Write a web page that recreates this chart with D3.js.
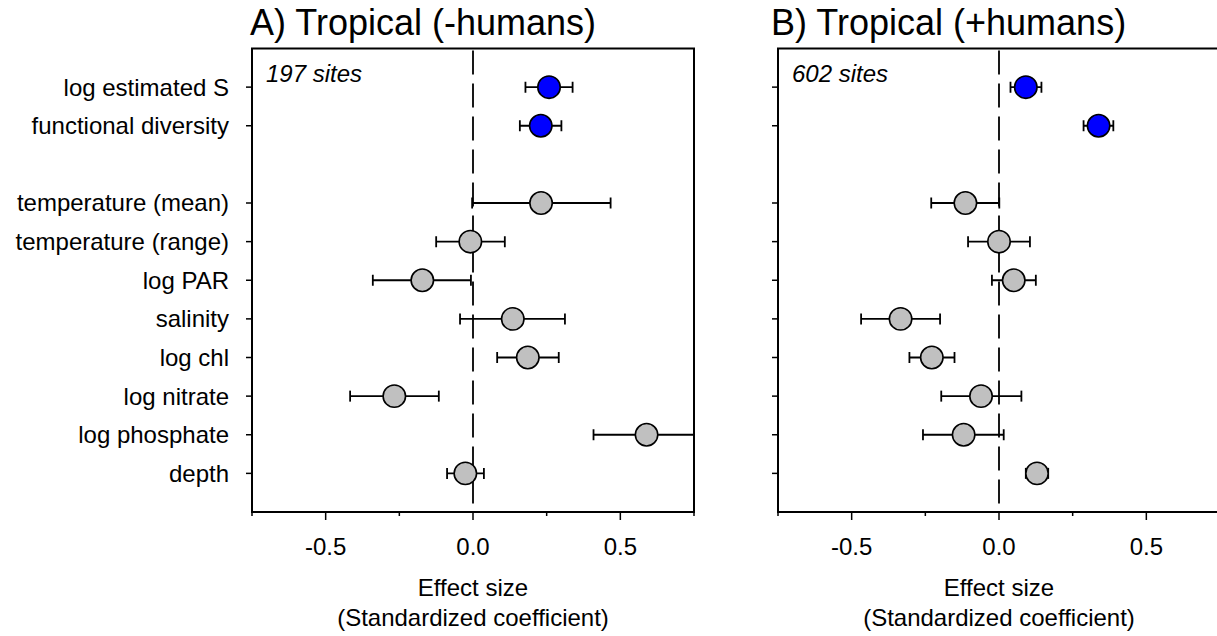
<!DOCTYPE html>
<meta charset="utf-8">
<head>
<script type="text/javascript" src="https://cdn.jsdelivr.net/npm/d3@7/dist/d3.min.js"></script>
<style>
  body { margin: 0; background: #fff; }
  text { font-family: "Liberation Sans", Arial, sans-serif; fill: #000; }
</style>
</head>
<body>
<div id="chart"></div>
<script>
// predictors, top to bottom (a blank row sits after the first two)
var variables = ["log estimated S", "functional diversity",
  "temperature (mean)", "temperature (range)", "log PAR", "salinity",
  "log chl", "log nitrate", "log phosphate", "depth"];
var isDiversity = [true, true, false, false, false, false, false, false, false, false];

// A) Tropical (-humans), 197 sites
var estA  = [0.258, 0.230, 0.231, -0.009, -0.172, 0.135, 0.186, -0.267, 0.589, -0.026];
var lowA  = [0.178, 0.159, -0.003, -0.125, -0.340, -0.044, 0.082, -0.417, 0.409, -0.088];
var highA = [0.338, 0.300, 0.467, 0.108, -0.007, 0.312, 0.291, -0.116, 0.770, 0.037];

// B) Tropical (+humans), 602 sites
var estB  = [0.091, 0.338, -0.114, 0.000, 0.050, -0.334, -0.228, -0.061, -0.120, 0.129];
var lowB  = [0.039, 0.287, -0.230, -0.105, -0.024, -0.468, -0.304, -0.196, -0.258, 0.091];
var highB = [0.144, 0.388, 0.001, 0.105, 0.125, -0.200, -0.151, 0.076, 0.016, 0.167];

var majorTicks = [-0.5, 0, 0.5];
var minorTicks = [-0.75, -0.25, 0.25, 0.75];

var width = 1217, height = 636;
var svg = d3.select("#chart").append("svg")
    .attr("width", width)
    .attr("height", height);

var rows = [variables[0], variables[1], "gap"].concat(variables.slice(2));
var y = d3.scalePoint().domain(rows).range([48.5, 512]).padding(1);

var panels = [
  {title: "A) Tropical (-humans)", sites: "197 sites", left: 252, est: estA, low: lowA, high: highA, labels: true, titleX: 250},
  {title: "B) Tropical (+humans)", sites: "602 sites", left: 778, est: estB, low: lowB, high: highB, labels: false, titleX: 771}
];

panels.forEach(function(p, pi) {
  var x = d3.scaleLinear().domain([-0.75, 0.75]).range([p.left, p.left + 442]);
  var g = svg.append("g");
  var top = y.range()[0], bottom = y.range()[1];

  g.append("clipPath").attr("id", "clip" + pi)
    .append("rect").attr("x", x.range()[0]).attr("y", top)
    .attr("width", x.range()[1] - x.range()[0]).attr("height", bottom - top);

  // zero line
  g.append("line")
    .attr("x1", x(0)).attr("x2", x(0))
    .attr("y1", top + 2).attr("y2", bottom)
    .attr("stroke", "#000").attr("stroke-width", 1.8)
    .attr("stroke-dasharray", "24,9");

  var data = variables.map(function(v, i) {
    return {name: v, est: p.est[i], low: p.low[i], high: p.high[i], blue: isDiversity[i]};
  });

  var bars = g.append("g").attr("clip-path", "url(#clip" + pi + ")")
    .selectAll("g").data(data).enter().append("g");
  bars.append("line")
    .attr("x1", function(d) { return x(d.low); })
    .attr("x2", function(d) { return x(d.high); })
    .attr("y1", function(d) { return y(d.name); })
    .attr("y2", function(d) { return y(d.name); })
    .attr("stroke", "#000").attr("stroke-width", 1.8);
  ["low", "high"].forEach(function(k) {
    bars.append("line")
      .attr("x1", function(d) { return x(d[k]); })
      .attr("x2", function(d) { return x(d[k]); })
      .attr("y1", function(d) { return y(d.name) - 5.5; })
      .attr("y2", function(d) { return y(d.name) + 5.5; })
      .attr("stroke", "#000").attr("stroke-width", 1.8);
  });

  g.selectAll("circle").data(data).enter().append("circle")
    .attr("cx", function(d) { return x(d.est); })
    .attr("cy", function(d) { return y(d.name); })
    .attr("r", 11.2)
    .attr("fill", function(d) { return d.blue ? "#0000ff" : "#c0c0c0"; })
    .attr("stroke", "#000").attr("stroke-width", 1.6);

  // frame
  g.append("rect")
    .attr("x", x.range()[0]).attr("y", top)
    .attr("width", x.range()[1] - x.range()[0]).attr("height", bottom - top)
    .attr("fill", "none").attr("stroke", "#000").attr("stroke-width", 2);

  // y ticks
  g.selectAll(".ytick").data(variables).enter().append("line")
    .attr("class", "ytick")
    .attr("x1", x.range()[0] - 6).attr("x2", x.range()[0])
    .attr("y1", function(d) { return y(d); })
    .attr("y2", function(d) { return y(d); })
    .attr("stroke", "#000").attr("stroke-width", 1.5);

  if (p.labels) {
    g.selectAll(".ylab").data(variables).enter().append("text")
      .attr("class", "ylab")
      .attr("x", 229)
      .attr("y", function(d) { return y(d); })
      .attr("dy", "0.35em")
      .attr("text-anchor", "end")
      .style("font-size", "24px")
      .text(function(d) { return d; });
  }

  // x axis ticks
  g.selectAll(".xmaj").data(majorTicks).enter().append("line")
    .attr("x1", function(d) { return x(d); }).attr("x2", function(d) { return x(d); })
    .attr("y1", bottom).attr("y2", bottom + 8)
    .attr("stroke", "#000").attr("stroke-width", 1.5);
  g.selectAll(".xmin").data(minorTicks).enter().append("line")
    .attr("x1", function(d) { return x(d); }).attr("x2", function(d) { return x(d); })
    .attr("y1", bottom).attr("y2", bottom + 4)
    .attr("stroke", "#000").attr("stroke-width", 1.5);
  g.selectAll(".xlab").data(majorTicks).enter().append("text")
    .attr("x", function(d) { return x(d); })
    .attr("y", 555)
    .attr("text-anchor", "middle")
    .style("font-size", "24px")
    .text(function(d) { return d3.format(".1f")(d).replace("−", "-"); });

  g.append("text")
    .attr("x", x(0)).attr("y", 596)
    .attr("text-anchor", "middle")
    .style("font-size", "24px")
    .text("Effect size");
  g.append("text")
    .attr("x", x(0)).attr("y", 626)
    .attr("text-anchor", "middle")
    .style("font-size", "24px")
    .text("(Standardized coefficient)");

  g.append("text")
    .attr("x", p.titleX).attr("y", 35)
    .style("font-size", "36px")
    .text(p.title);

  g.append("text")
    .attr("x", x.range()[0] + 14).attr("y", 81.5)
    .style("font-size", "24px")
    .style("font-style", "italic")
    .text(p.sites);
});
</script>
</body>
</html>
